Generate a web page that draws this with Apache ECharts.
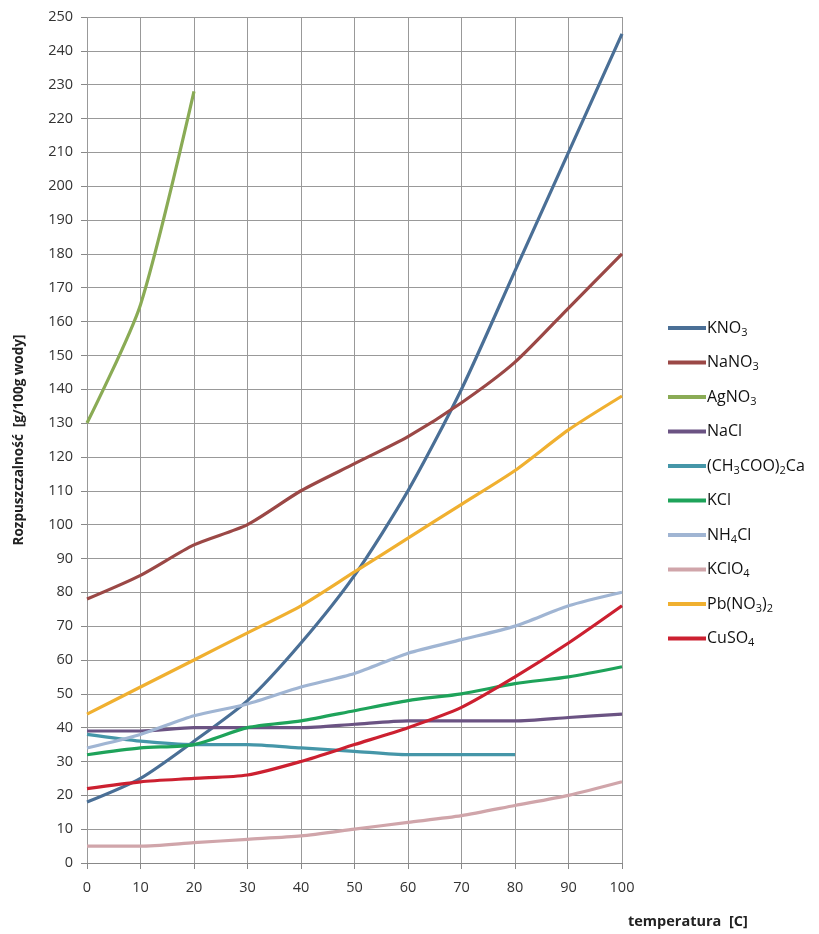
<!DOCTYPE html>
<html><head><meta charset="utf-8">
<script src="https://cdn.jsdelivr.net/npm/echarts@6/dist/echarts.min.js"></script>
<style>html,body{margin:0;padding:0;background:#fff}#c{width:819px;height:934px}</style>
</head><body><div id="c"></div>
<script>
const temps = [0,10,20,30,40,50,60,70,80,90,100];
const KNO3 = [18,25,36,48,65,85,110,140,175,210,245];
const NaNO3 = [78,85,94,100,110,118,126,136,148,164,180];
const AgNO3 = [130,165,228];
const NaCl = [39,39,40,40,40,41,42,42,42,43,44];
const CaAc = [38,36,35,35,34,33,32,32,32];
const KCl = [32,34,35,40,42,45,48,50,53,55,58];
const NH4Cl = [34,38,43.5,47,52,56,62,66,70,76,80];
const KClO4 = [5,5,6,7,8,10,12,14,17,20,24];
const PbNO32 = [44,52,60,68,76,86,96,106,116,128,138];
const CuSO4 = [22,24,25,26,30,35,40,46,55,65,76];

const seriesNames = ['KNO3','NaNO3','AgNO3','NaCl','(CH3COO)2Ca','KCl','NH4Cl','KClO4','Pb(NO3)2','CuSO4'];
const legendLabels = ['KNO{s|3}','NaNO{s|3}','AgNO{s|3}','NaCl','(CH{s|3}COO){s|2}Ca','KCl','NH{s|4}Cl','KClO{s|4}','Pb(NO{s|3}){s|2}','CuSO{s|4}'];
const seriesData = [KNO3,NaNO3,AgNO3,NaCl,CaAc,KCl,NH4Cl,KClO4,PbNO32,CuSO4];
const colors = ['#4a6f96','#9b4846','#8aab55','#6b5383','#4596a8','#1ea35a','#a0b5d3','#d0a5aa','#f0b030','#cc2030'];

const chart = echarts.init(document.getElementById('c'));
const FONT = '"Open Sans", sans-serif';
chart.setOption({
  animation:false,
  color: colors,
  grid:{left:87,right:197,top:17,bottom:71,containLabel:false},
  xAxis:{type:'value',min:0,max:100,interval:10,
    axisLine:{show:true,onZero:false,lineStyle:{color:'#888',width:1}},
    axisTick:{show:true,length:6,lineStyle:{color:'#888'}},
    axisLabel:{margin:17,fontSize:14.5,color:'#333',fontFamily:FONT},
    splitLine:{show:true,lineStyle:{color:'#999',width:1}}},
  yAxis:{type:'value',min:0,max:250,interval:10,
    name:'Rozpuszczalność  [g/100g wody]',nameLocation:'middle',nameGap:61,
    nameTextStyle:{fontSize:13.5,fontWeight:'bold',color:'#222',fontFamily:FONT},
    axisLine:{show:false},axisTick:{show:true,length:6,lineStyle:{color:'#888'}},
    axisLabel:{margin:14,fontSize:14.5,color:'#333',fontFamily:FONT},
    splitLine:{show:true,lineStyle:{color:'#999',width:1}}},
  legend:{orient:'vertical',left:663,top:313,itemWidth:38,itemHeight:4,itemGap:14.5,icon:'rect',
    data:seriesNames,
    formatter:function(n){return legendLabels[seriesNames.indexOf(n)];},
    textStyle:{fontSize:16,lineHeight:20,color:'#111',fontFamily:FONT,padding:[0,0,0,-4],
      rich:{s:{fontSize:11,lineHeight:20,verticalAlign:'bottom',padding:[7,0,0,0],fontFamily:FONT,color:'#111'}}}},
  graphic:[{type:'text',left:628,top:914,style:{text:'temperatura  [C]',font:'bold 14.5px "Open Sans", sans-serif',fill:'#222'}}],
  series: seriesNames.map((n,i)=>({
    name:n,type:'line',smooth:0.25,symbol:'none',
    lineStyle:{width:3.2,color:colors[i]},
    itemStyle:{color:colors[i]},
    data: seriesData[i].map((v,j)=>[temps[j],v])
  }))
});
</script></body></html>
